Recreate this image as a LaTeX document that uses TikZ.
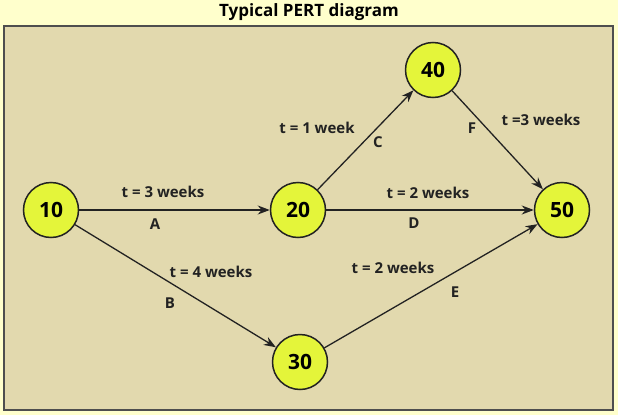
\documentclass[tikz,border=0pt]{standalone}
\usepackage{fontspec}
\setmainfont{Open Sans}
\usetikzlibrary{arrows.meta}
\definecolor{bgout}{HTML}{FFFFCC}
\definecolor{bgin}{HTML}{E2D9AE}
\definecolor{nodefill}{HTML}{E4F53A}
\definecolor{ink}{HTML}{222222}
\tikzset{
  ev/.style={circle,draw=ink,line width=1.5pt,fill=nodefill,minimum size=55pt,inner sep=0pt,font=\bfseries\fontsize{21}{21}\selectfont},
  act/.style={draw=ink,line width=1.3pt,-{Stealth[length=12pt,width=9pt]}},
  lbl/.style={font=\bfseries\fontsize{15}{15}\selectfont,text=ink}
}
\begin{document}
\begin{tikzpicture}[x=1pt,y=-1pt]
\fill[bgout] (0,0) rectangle (618,415);
\useasboundingbox (0,0) rectangle (618,415);
\draw[draw=ink!80,line width=1.5pt,fill=bgin] (4,26) rectangle (613,410);
\node[font=\bfseries\fontsize{17}{17}\selectfont] (title) at (309,12) {Typical PERT diagram};
\node[ev] (n10) at (51,210) {10};
\node[ev] (n20) at (298,210) {20};
\node[ev] (n40) at (433,70) {40};
\node[ev] (n50) at (562,210) {50};
\node[ev] (n30) at (300,362) {30};
\draw[act] (n10) -- (n20);
\draw[act] (n10) -- (n30);
\draw[act] (n20) -- (n40);
\draw[act] (n20) -- (n50);
\draw[act] (n40) -- (n50);
\draw[act] (n30) -- (n50);
\node[lbl] (la1) at (163,192) {t = 3 weeks};
\node[lbl] (la2) at (155,224) {A};
\node[lbl] (lc1) at (317,128) {t = 1 week};
\node[lbl] (lc2) at (378,142) {C};
\node[lbl] (ld1) at (428,193) {t = 2 weeks};
\node[lbl] (ld2) at (414,223) {D};
\node[lbl] (lf2) at (472,128) {F};
\node[lbl] (lf1) at (541,120) {t =3 weeks};
\node[lbl] (lb1) at (211,272) {t = 4 weeks};
\node[lbl] (lb2) at (170,303) {B};
\node[lbl] (le1) at (393,268) {t = 2 weeks};
\node[lbl] (le2) at (455,292) {E};
\end{tikzpicture}
\end{document}
